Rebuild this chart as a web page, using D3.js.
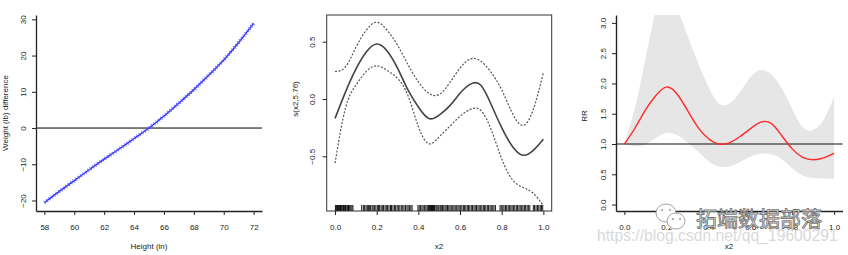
<!DOCTYPE html>
<html>
<head>
<meta charset="utf-8">
<script src="https://cdn.jsdelivr.net/npm/d3@7.9.0/dist/d3.min.js"></script>
<style>
  body { margin: 0; background: #fff; }
  text { font-family: "Liberation Sans", Arial, sans-serif; }
</style>
</head>
<body>
<svg id="chart" width="848" height="255"></svg>
<script>
// ---- data ----
const heights = [58, 59, 60, 61, 62, 63, 64, 65, 66, 67, 68, 69, 70, 71, 72];
const weightDiff = [-20.6, -17.5, -14.5, -11.5, -8.6, -5.8, -2.9, 0, 3.3, 6.9, 10.6, 14.6, 18.8, 23.6, 28.9];
const heightTicks = [58, 60, 62, 64, 66, 68, 70, 72];
const weightTicks = [-20, -10, 0, 10, 20, 30];

const x2Grid = [0, 0.05, 0.1, 0.15, 0.2, 0.25, 0.3, 0.35, 0.4, 0.45, 0.5,
                0.55, 0.6, 0.65, 0.7, 0.75, 0.8, 0.85, 0.9, 0.95, 1];
const smoothFit   = [-0.17, 0.06, 0.26, 0.41, 0.48, 0.42, 0.27, 0.08, -0.07, -0.17, -0.14,
                     -0.06, 0.05, 0.13, 0.12, -0.05, -0.25, -0.41, -0.49, -0.45, -0.35];
const smoothUpper = [0.24, 0.28, 0.45, 0.60, 0.67, 0.60, 0.47, 0.30, 0.15, 0.05, 0.04,
                     0.14, 0.27, 0.35, 0.33, 0.23, 0.08, -0.12, -0.23, -0.10, 0.23];
const smoothLower = [-0.56, -0.08, 0.12, 0.24, 0.29, 0.25, 0.18, 0.03, -0.24, -0.39, -0.33,
                     -0.24, -0.15, -0.09, -0.10, -0.27, -0.52, -0.70, -0.77, -0.82, -0.93];
const rugX = [0.002, 0.006, 0.009, 0.012, 0.017, 0.021, 0.024, 0.026, 0.03, 0.034, 0.038, 0.041, 0.045, 0.05,
  0.053, 0.058, 0.062, 0.064, 0.067, 0.071, 0.076, 0.081, 0.086,
  0.128, 0.136, 0.142, 0.149, 0.155, 0.16, 0.166, 0.171, 0.178, 0.183, 0.19, 0.196, 0.203, 0.209,
  0.214, 0.221, 0.227, 0.233, 0.24, 0.246, 0.252, 0.259, 0.266, 0.271, 0.278, 0.285, 0.291, 0.298,
  0.304, 0.311, 0.318, 0.325, 0.331, 0.338, 0.345, 0.351, 0.358, 0.364, 0.37,
  0.398, 0.404, 0.41, 0.417, 0.423, 0.43, 0.436, 0.442, 0.447, 0.45, 0.452, 0.456, 0.458, 0.463, 0.466,
  0.468, 0.473, 0.476, 0.478, 0.484, 0.489, 0.494, 0.499, 0.505, 0.51, 0.516, 0.522, 0.528, 0.534,
  0.54, 0.546, 0.552, 0.558, 0.565, 0.571, 0.577, 0.584, 0.59, 0.596, 0.603, 0.609, 0.616, 0.622,
  0.628, 0.635, 0.641, 0.647, 0.654, 0.66, 0.667, 0.673, 0.679, 0.686, 0.692, 0.699, 0.705, 0.712,
  0.718, 0.724, 0.731, 0.737, 0.744, 0.75, 0.757, 0.763, 0.77,
  0.792, 0.798, 0.805, 0.811, 0.818, 0.824, 0.831, 0.837, 0.844, 0.85, 0.857, 0.863, 0.87, 0.876,
  0.883, 0.889, 0.896, 0.902, 0.909, 0.915, 0.922, 0.928, 0.935,
  0.952, 0.958, 0.965, 0.972, 0.978, 0.985, 0.991, 0.997];
const x2Ticks = [0, 0.2, 0.4, 0.6, 0.8, 1.0];
const smoothTicks = [-0.5, 0, 0.5];

const rr      = [1.00, 1.26, 1.56, 1.80, 1.94, 1.83, 1.56, 1.28, 1.09, 1.00, 1.02,
                 1.12, 1.25, 1.36, 1.34, 1.14, 0.92, 0.78, 0.74, 0.77, 0.85];
const rrUpper = [1.00, 1.60, 2.40, 3.20, 3.50, 3.25, 2.80, 2.35, 1.95, 1.67, 1.67,
                 1.85, 2.10, 2.22, 2.15, 1.92, 1.58, 1.28, 1.23, 1.40, 1.78];
const rrLower = [1.00, 0.96, 0.99, 1.10, 1.18, 1.15, 1.03, 0.88, 0.72, 0.63, 0.63,
                 0.70, 0.79, 0.84, 0.83, 0.75, 0.60, 0.48, 0.44, 0.43, 0.42];
const rrTicks = [0, 0.5, 1.0, 1.5, 2.0, 2.5, 3.0];

const svg = d3.select('#chart');
const axisColor = '#222';

// rotate y tick labels like R does (las = 0)
function styleY(g, off) {
  g.attr('font-size', 8).attr('font-family', '"Liberation Sans", Arial, sans-serif');
  g.selectAll('.tick text')
    .attr('transform', 'rotate(-90)')
    .attr('text-anchor', 'middle')
    .attr('x', 0).attr('y', -off).attr('dy', 0)
    .attr('fill', '#222');
  g.selectAll('path, line').attr('stroke', axisColor);
}
function styleX(g) {
  g.attr('font-size', 8).attr('font-family', '"Liberation Sans", Arial, sans-serif');
  g.selectAll('.tick text').attr('y', 13).attr('fill', '#222');
  g.selectAll('path, line').attr('stroke', axisColor);
}
function fmt1(d) { return d3.format('.1f')(d); }

// ================= panel 1 =================
{
  const x = d3.scaleLinear().domain([57.44, 72.56]).range([36, 262]);
  const y = d3.scaleLinear().domain([-22.9, 31.2]).range([211, 15]);
  const g = svg.append('g');

  g.append('line').attr('x1', 36).attr('x2', 262).attr('y1', y(0)).attr('y2', y(0))
    .attr('stroke', '#000').attr('stroke-width', 1);

  const pts = heights.map((h, i) => ({ h: h, v: weightDiff[i] }));
  const line = d3.line().x(d => x(d.h)).y(d => y(d.v)).curve(d3.curveNatural);
  g.append('path').attr('d', line(pts)).attr('fill', 'none')
    .attr('stroke', '#2a2aff').attr('stroke-width', 1.4);
  // dense point markers along the curve
  g.append('path').attr('d', line(pts)).attr('fill', 'none')
    .attr('stroke', '#5a5aff').attr('stroke-width', 4)
    .attr('stroke-dasharray', '0.9 2.1').attr('opacity', 0.85);

  g.append('g').attr('transform', 'translate(36,0)')
    .call(d3.axisLeft(y).tickValues(weightTicks).tickSize(4).tickSizeOuter(0))
    .call(gg => styleY(gg, 10));
  g.append('g').attr('transform', 'translate(0,211)')
    .call(d3.axisBottom(x).tickValues(heightTicks).tickSize(4).tickSizeOuter(0))
    .call(styleX);
  g.selectAll('.domain').attr('stroke-width', 1.3);

  g.append('text').attr('x', 149).attr('y', 249).attr('text-anchor', 'middle')
    .attr('font-size', 8).attr('fill', '#222').text('Height (in)');
  g.append('text').attr('transform', 'translate(8,113) rotate(-90)').attr('text-anchor', 'middle')
    .attr('font-size', 8).attr('fill', '#222').text('Weight (lb) difference');
}

// ================= panel 2 =================
{
  const x = d3.scaleLinear().domain([-0.04, 1.04]).range([326.7, 551.7]);
  const y = d3.scaleLinear().domain([-0.977, 0.733]).range([211, 15]);
  const g = svg.append('g');

  g.selectAll('line.rug').data(rugX).join('line').attr('class', 'rug')
    .attr('x1', d => x(d)).attr('x2', d => x(d)).attr('y1', 211).attr('y2', 205)
    .attr('stroke', '#000').attr('stroke-width', 0.9);

  const mk = arr => d3.line().x((d, i) => x(x2Grid[i])).y(d => y(d)).curve(d3.curveNatural)(arr);
  g.append('path').attr('d', mk(smoothUpper)).attr('fill', 'none')
    .attr('stroke', '#555').attr('stroke-width', 1.2).attr('stroke-dasharray', '2 1.6');
  g.append('path').attr('d', mk(smoothLower)).attr('fill', 'none')
    .attr('stroke', '#555').attr('stroke-width', 1.2).attr('stroke-dasharray', '2 1.6');
  g.append('path').attr('d', mk(smoothFit)).attr('fill', 'none')
    .attr('stroke', '#444').attr('stroke-width', 1.6);

  g.append('rect').attr('x', 326.7).attr('y', 15).attr('width', 225).attr('height', 196)
    .attr('fill', 'none').attr('stroke', '#333').attr('stroke-width', 1);

  g.append('g').attr('transform', 'translate(326.7,0)')
    .call(d3.axisLeft(y).tickValues(smoothTicks).tickFormat(fmt1).tickSize(4).tickSizeOuter(0))
    .call(gg => styleY(gg, 11.5))
    .call(gg => gg.select('.domain').remove());
  g.append('g').attr('transform', 'translate(0,211)')
    .call(d3.axisBottom(x).tickValues(x2Ticks).tickFormat(fmt1).tickSize(4).tickSizeOuter(0))
    .call(styleX)
    .call(gg => gg.select('.domain').remove());

  g.append('text').attr('x', 439).attr('y', 249).attr('text-anchor', 'middle')
    .attr('font-size', 8).attr('fill', '#222').text('x2');
  g.append('text').attr('transform', 'translate(298,99) rotate(-90)').attr('text-anchor', 'middle')
    .attr('font-size', 8).attr('fill', '#222').text('s(x2,5.76)');
}

// ================= panel 3 =================
{
  const x = d3.scaleLinear().domain([-0.04, 1.04]).range([616, 842.5]);
  const y = d3.scaleLinear().domain([-0.106, 3.13]).range([211, 15]);
  const g = svg.append('g');

  svg.append('defs').append('clipPath').attr('id', 'clip3')
    .append('rect').attr('x', 616).attr('y', 15).attr('width', 226.5).attr('height', 196);

  const band = x2Grid.map((v, i) => ({ x: v, lo: rrLower[i], hi: rrUpper[i] }));
  g.append('path').attr('clip-path', 'url(#clip3)')
    .attr('d', d3.area().x(d => x(d.x)).y0(d => y(d.lo)).y1(d => y(d.hi)).curve(d3.curveNatural)(band))
    .attr('fill', '#e6e6e6');

  g.append('line').attr('x1', 616).attr('x2', 842.5).attr('y1', y(1)).attr('y2', y(1))
    .attr('stroke', '#111').attr('stroke-width', 1.1);

  g.append('path')
    .attr('d', d3.line().x((d, i) => x(x2Grid[i])).y(d => y(d)).curve(d3.curveNatural)(rr))
    .attr('fill', 'none').attr('stroke', '#ff2a2a').attr('stroke-width', 1.4);

  g.append('g').attr('transform', 'translate(616,0)')
    .call(d3.axisLeft(y).tickValues(rrTicks).tickFormat(fmt1).tickSize(4).tickSizeOuter(0))
    .call(gg => styleY(gg, 10));
  g.append('g').attr('transform', 'translate(0,211)')
    .call(d3.axisBottom(x).tickValues(x2Ticks).tickFormat(fmt1).tickSize(4).tickSizeOuter(0))
    .call(styleX);
  g.selectAll('.domain').attr('stroke-width', 1.4);

  g.append('text').attr('x', 729).attr('y', 249).attr('text-anchor', 'middle')
    .attr('font-size', 8).attr('fill', '#222').text('x2');
  g.append('text').attr('transform', 'translate(587,116) rotate(-90)').attr('text-anchor', 'middle')
    .attr('font-size', 8).attr('fill', '#222').text('RR');
}

// ================= watermark =================
{
  const w = svg.append('g');
  w.append('ellipse').attr('cx', 666).attr('cy', 213).attr('rx', 10).attr('ry', 9)
    .attr('fill', '#fff').attr('stroke', '#999').attr('stroke-width', 0.9);
  w.append('ellipse').attr('cx', 676).attr('cy', 221).attr('rx', 9).attr('ry', 8)
    .attr('fill', '#fff').attr('stroke', '#999').attr('stroke-width', 0.9);
  [[662, 210], [670, 210], [673, 219], [680, 219]].forEach(p => {
    w.append('circle').attr('cx', p[0]).attr('cy', p[1]).attr('r', 1).attr('fill', '#999');
  });
  w.append('text').attr('x', 696).attr('y', 226)
    .style('font-family', '"Noto Sans CJK SC", sans-serif').attr('font-size', 21)
    .attr('fill', '#fff').attr('stroke', '#777').attr('stroke-width', 0.9)
    .text('拓端数据部落');
  w.append('text').attr('x', 597).attr('y', 240.5).attr('font-size', 15.7)
    .attr('fill', '#d9d9d9').text('https://blog.csdn.net/qq_19600291');
}
</script>
</body>
</html>
